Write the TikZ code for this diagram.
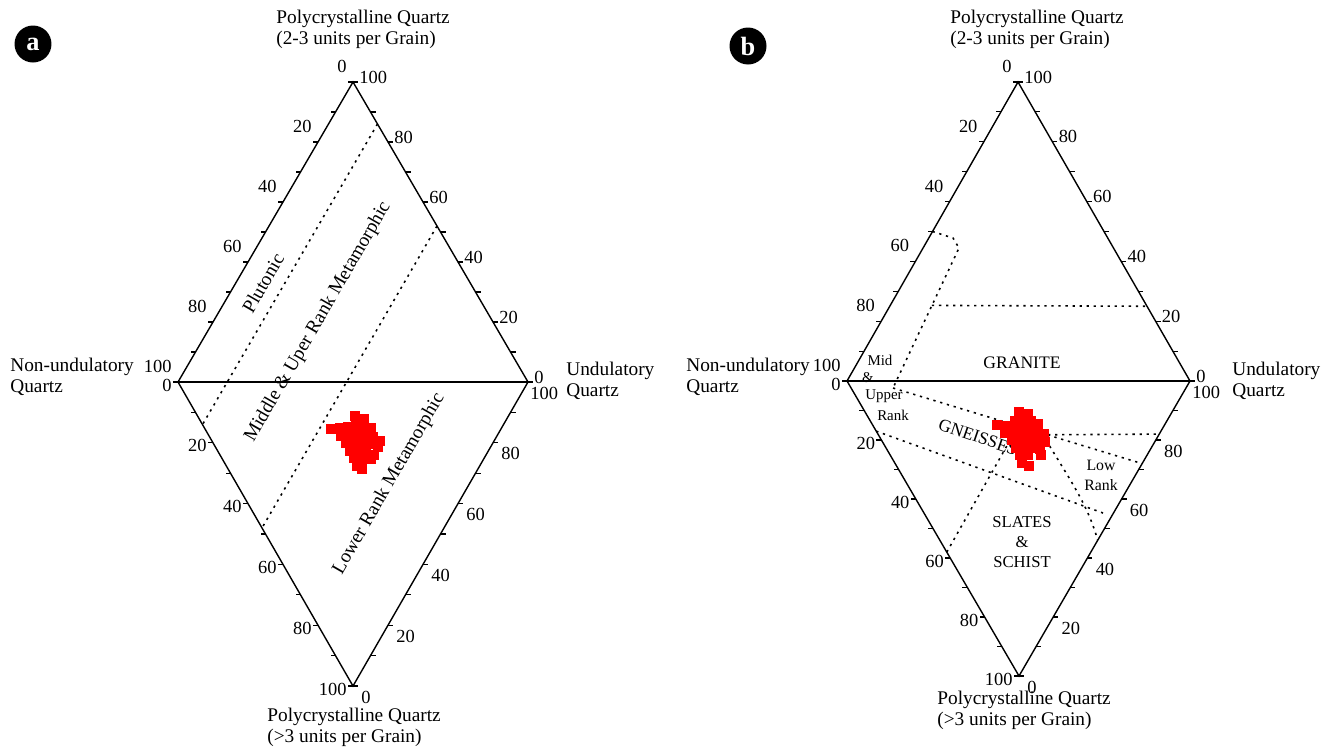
\documentclass[tikz,border=0pt]{standalone}
\usepackage{fontspec}
\setmainfont{Liberation Serif}
\usetikzlibrary{calc}

\begin{document}
\begin{tikzpicture}[ x                 = 0.02cm
                   , y                 = -0.02cm
                   , every node/.style = { inner sep = 0pt }
                   , font              = \fontsize{11}{13}\selectfont
                   ]

  %%
  %% Styles
  %%
  \tikzset{ frame/.style={line width=0.8pt, line join=miter}
          , field/.style={line width=0.9pt, dash pattern=on 1.3pt off 2.7pt}
          , tickmark/.style={line width=0.6pt}
          , grain/.style={fill=red, draw=none}
          , apex/.style={align=left, font=\fontsize{11}{12}\selectfont}
          , scalelabel/.style={font=\fontsize{10.5}{12}\selectfont}
          , zone/.style={align=center, font=\fontsize{11}{13}\selectfont}
          , smallzone/.style={align=center, font=\fontsize{9.5}{11.3}\selectfont}
          , panel/.style={circle, fill=black, text=white, minimum size=0.74cm,
                          font=\fontsize{15}{15}\selectfont\bfseries}
          }

  \useasboundingbox (0,0) rectangle (1321,748);

  %%
  %% Corners of both diamonds
  %%
  \coordinate (a-T) at (353,82);
  \coordinate (a-L) at (178,382);
  \coordinate (a-R) at (528,382);
  \coordinate (a-B) at (353,686);

  \coordinate (b-T) at (1018,82);
  \coordinate (b-L) at (847,381);
  \coordinate (b-R) at (1190,381);
  \coordinate (b-B) at (1019,676);

  %%
  %% Frames, ticks and scales
  %%
  \foreach \p in {a,b} {
    \draw[frame] (\p-T) -- (\p-R) -- (\p-B) -- (\p-L) -- cycle;
    \draw[frame] (\p-L) -- (\p-R);

    \foreach \v in {0,10,...,100} {
      \draw[tickmark] ($(\p-T)!\v/100!(\p-L)$) -- ++(-5,0);
      \draw[tickmark] ($(\p-T)!\v/100!(\p-R)$) -- ++(5,0);
      \draw[tickmark] ($(\p-L)!\v/100!(\p-B)$) -- ++(-5,0);
      \draw[tickmark] ($(\p-R)!\v/100!(\p-B)$) -- ++(5,0);
    }

    \foreach \v in {0,20,...,100} {
      \pgfmathtruncatemacro\w{100-\v}
      \pgfmathsetmacro\dx{\v==0 ? 2 : 8}
      \node[scalelabel, anchor=south east] (\p-ul-\v) at ($(\p-T)!\v/100!(\p-L) + (-6,-9)$) {\v};
      \node[scalelabel, anchor=west]       (\p-ur-\v) at ($(\p-T)!\v/100!(\p-R) + (6,-5)$)  {\w};
      \node[scalelabel, anchor=east]       (\p-ll-\v) at ($(\p-L)!\v/100!(\p-B) + (-6,3)$)  {\v};
      \node[scalelabel, anchor=west]       (\p-lr-\v) at ($(\p-R)!\v/100!(\p-B) + (\dx,11)$) {\w};
    }
  }

  %%
  %% Panel a
  %%
  \node[panel] (tag-a) at (33,44) {a};

  \node[apex, anchor=north west] (a-top)   at (276,10)  {Polycrystalline Quartz\\(2-3 units per Grain)};
  \node[apex, anchor=north west] (a-left)  at (10,358)  {Non-undulatory\\Quartz};
  \node[apex, anchor=north west] (a-right) at (566,362) {Undulatory\\Quartz};
  \node[apex, anchor=north west] (a-down)  at (267,708) {Polycrystalline Quartz\\(>3 units per Grain)};

  \draw[field] ($(a-R)!0.86!(a-T)$) -- ($(a-L)!0.14!(a-B)$);
  \draw[field] ($(a-R)!0.52!(a-T)$) -- ($(a-L)!0.48!(a-B)$);

  \node[zone, rotate=60] (plutonic) at (263,283) {Plutonic};
  \node[zone, rotate=60] (midupper) at (318,322) {Middle \& Uper Rank Metamorphic};
  \node[zone, rotate=60] (lowrank)  at (389,484) {Lower Rank Metamorphic};

  \foreach \x/\y in {355/416, 364/419,
                     331/429, 340/428, 348/427, 356/425, 364/427, 371/428,
                     341/436, 349/435, 357/434, 365/435, 373/437, 380/441,
                     346/443, 354/443, 362/443, 370/444, 378/447,
                     350/451, 358/451, 366/451, 374/455,
                     354/458, 362/459, 371/459,
                     357/466, 362/469}
    \fill[grain] (\x-5,\y-5) rectangle ++(10,10);

  %%
  %% Panel b
  %%
  \node[panel] (tag-b) at (748,46) {b};

  \node[apex, anchor=north west] (b-top)   at (950,10)   {Polycrystalline Quartz\\(2-3 units per Grain)};
  \node[apex, anchor=north west] (b-left)  at (686,358)  {Non-undulatory\\Quartz};
  \node[apex, anchor=north west] (b-right) at (1232,362) {Undulatory\\Quartz};
  \node[apex, anchor=north west] (b-down)  at (937,691)  {Polycrystalline Quartz\\(>3 units per Grain)};

  \coordinate (b-knee) at (959,248);
  \coordinate (b-foot) at (893,388);
  \coordinate (b-fork) at (1013,435);

  \draw[field] ($(b-T)!0.5!(b-L)$) -- (953,238) -- (b-knee) -- (b-foot);
  \draw[field] ($(b-knee)!0.41!(b-foot)$) -- ($(b-T)!0.75!(b-R)$);
  \draw[field] (b-foot) -- ($(b-R)!0.28!(b-B)$);
  \draw[field] ($(b-L)!0.17!(b-B)$) -- (1103,513);
  \draw[field] ($(b-L)!0.58!(b-B)$) -- (b-fork);
  \draw[field] (b-fork) -- ($(b-R)!0.18!(b-B)$);
  \draw[field] (1046,440) .. controls (1070,480) and (1088,505) .. ($(b-R)!0.54!(b-B)$);

  \node[zone, font=\fontsize{10}{12}\selectfont] (granite) at (1022,363) {GRANITE};
  \node[smallzone, font=\fontsize{8.5}{10}\selectfont] (mid)   at (880,360) {Mid};
  \node[smallzone, font=\fontsize{8.5}{10}\selectfont] (amp)   at (868,378) {\&};
  \node[smallzone, font=\fontsize{8.5}{10}\selectfont] (upper) at (884,396) {Upper};
  \node[smallzone, font=\fontsize{8.5}{10}\selectfont] (rank)  at (893,415) {Rank};
  \node[zone, font=\fontsize{10}{12}\selectfont, rotate=-19] (gneiss) at (978,437) {GNEISSES};
  \node[smallzone, font=\fontsize{9}{11.3}\selectfont] (low)    at (1101,475) {Low\\Rank};
  \node[smallzone] (slates) at (1022,542) {SLATES\\\&\\SCHIST};

  \foreach \x/\y in {1019/412, 1028/414,
                     997/425, 1006/426, 1015/421, 1023/421, 1031/421, 1038/424,
                     1005/433, 1013/430, 1021/430, 1029/430, 1037/431, 1044/434,
                     1012/440, 1020/439, 1028/439, 1036/440, 1045/442,
                     1016/448, 1024/447, 1032/448, 1040/449,
                     1020/455, 1028/455, 1041/455,
                     1022/463, 1029/466}
    \fill[grain] (\x-5,\y-5) rectangle ++(10,10);

\end{tikzpicture}
\end{document}
